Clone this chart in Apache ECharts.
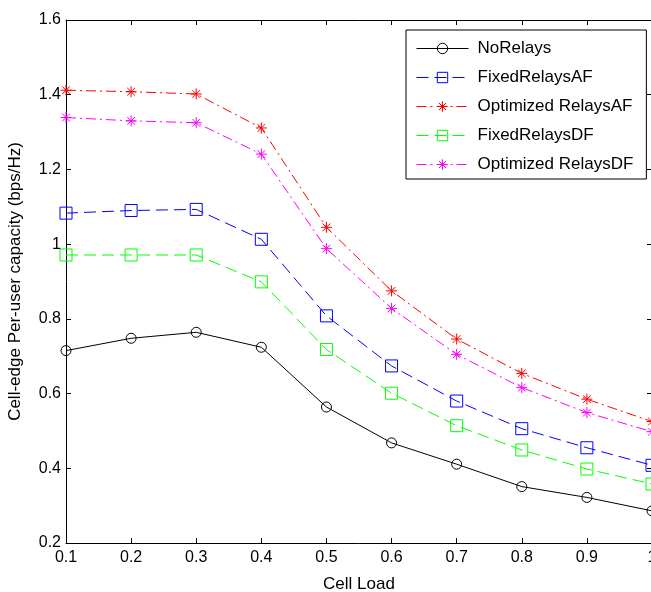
<!DOCTYPE html>
<html>
<head>
<meta charset="utf-8">
<script src="https://cdn.jsdelivr.net/npm/echarts@6/dist/echarts.min.js"></script>
<style>
  html,body{margin:0;padding:0;background:#fff;}
  #main{width:651px;height:592px;}
</style>
</head>
<body>
<div id="main"></div>
<script>
// cell load (x axis)
var cellLoad = [0.1, 0.2, 0.3, 0.4, 0.5, 0.6, 0.7, 0.8, 0.9, 1.0];
// capacity per series (bps/Hz)
var noRelays       = [0.715, 0.748, 0.764, 0.724, 0.564, 0.468, 0.411, 0.351, 0.322, 0.286];
var fixedRelaysAF  = [1.083, 1.090, 1.093, 1.013, 0.808, 0.674, 0.580, 0.506, 0.455, 0.408];
var optRelaysAF    = [1.412, 1.408, 1.402, 1.311, 1.045, 0.875, 0.746, 0.654, 0.585, 0.525];
var fixedRelaysDF  = [0.971, 0.971, 0.971, 0.899, 0.718, 0.601, 0.514, 0.449, 0.398, 0.358];
var optRelaysDF    = [1.339, 1.330, 1.325, 1.241, 0.988, 0.828, 0.705, 0.616, 0.549, 0.498];
var seriesNames = ['NoRelays', 'FixedRelaysAF', 'Optimized RelaysAF', 'FixedRelaysDF', 'Optimized RelaysDF'];

var FONT = 'Arial, "Liberation Sans", sans-serif';
var star = 'path://M5,0 L5,10 M0,5 L10,5 M1.5,1.5 L8.5,8.5 M1.5,8.5 L8.5,1.5';

function pairs(ys){
    return cellLoad.map(function(x, i){ return [x, ys[i]]; });
}
function fmt(v){ return String(+v.toFixed(1)); }

function mkSeries(name, ys, color, dash, symbol, size){
    return {
        name: name,
        type: 'line',
        data: pairs(ys),
        symbol: symbol,
        symbolSize: size,
        showAllSymbol: true,
        lineStyle: { color: color, width: 1, type: dash },
        itemStyle: { color: symbol === 'circle' || symbol === 'rect' ? 'transparent' : color, borderColor: color, borderWidth: 1 },
        emphasis: { disabled: true },
        animation: false,
        z: 3
    };
}

var myChart = echarts.init(document.getElementById('main'), null, { renderer: 'canvas' });

var tickStyle = { show: true, inside: true, length: 5, lineStyle: { color: '#000', width: 1 } };
var lineStyle = { show: true, lineStyle: { color: '#000', width: 1 } };

var option = {
    backgroundColor: '#fff',
    animation: false,
    grid: { left: 66, top: 20, width: 586, height: 523, containLabel: false, outerBoundsMode: 'none' },
    legend: {
        orient: 'vertical',
        left: 406,
        top: 30,
        data: seriesNames,
        itemWidth: 52,
        itemHeight: 13,
        itemGap: 12,
        padding: [10, 13, 6, 10],
        backgroundColor: '#fff',
        borderColor: '#000',
        borderWidth: 1,
        borderRadius: 0,
        lineStyle: { width: 1 },
        itemStyle: { borderWidth: 1 },
        textStyle: { fontFamily: FONT, fontSize: 17, color: '#000', padding: [0, 0, 0, 4] },
        selectedMode: false,
        z: 10
    },
    xAxis: [{
        type: 'value',
        min: 0.1, max: 1.0, interval: 0.1,
        name: 'Cell Load',
        nameLocation: 'middle',
        nameGap: 33,
        nameTextStyle: { fontFamily: FONT, fontSize: 17, color: '#000' },
        axisLine: lineStyle,
        axisTick: tickStyle,
        splitLine: { show: false },
        axisLabel: { fontFamily: FONT, fontSize: 16, color: '#000', margin: 7, formatter: fmt, showMinLabel: true, showMaxLabel: true }
    }, {
        type: 'value', position: 'top',
        min: 0.1, max: 1.0, interval: 0.1,
        axisLine: lineStyle,
        axisTick: tickStyle,
        axisLabel: { show: false },
        splitLine: { show: false }
    }],
    yAxis: [{
        type: 'value',
        min: 0.2, max: 1.6, interval: 0.2,
        name: 'Cell-edge Per-user capacity (bps/Hz)',
        nameLocation: 'middle',
        nameGap: 42,
        nameTextStyle: { fontFamily: FONT, fontSize: 17, color: '#000' },
        axisLine: lineStyle,
        axisTick: tickStyle,
        splitLine: { show: false },
        axisLabel: { fontFamily: FONT, fontSize: 16, color: '#000', margin: 5, formatter: fmt }
    }, {
        type: 'value', position: 'right',
        min: 0.2, max: 1.6, interval: 0.2,
        axisLine: lineStyle,
        axisTick: tickStyle,
        axisLabel: { show: false },
        splitLine: { show: false }
    }],
    series: [
        mkSeries(seriesNames[0], noRelays,      '#000000', 'solid',   'circle', 10),
        mkSeries(seriesNames[1], fixedRelaysAF, '#0000ff', [12, 6],   'rect',   12),
        mkSeries(seriesNames[2], optRelaysAF,   '#ff0000', [10, 4, 2, 4], star, 11),
        mkSeries(seriesNames[3], fixedRelaysDF, '#00ff00', [12, 6],   'rect',   12),
        mkSeries(seriesNames[4], optRelaysDF,   '#ff00ff', [10, 4, 2, 4], star, 11)
    ]
};
myChart.setOption(option);
</script>
</body>
</html>
